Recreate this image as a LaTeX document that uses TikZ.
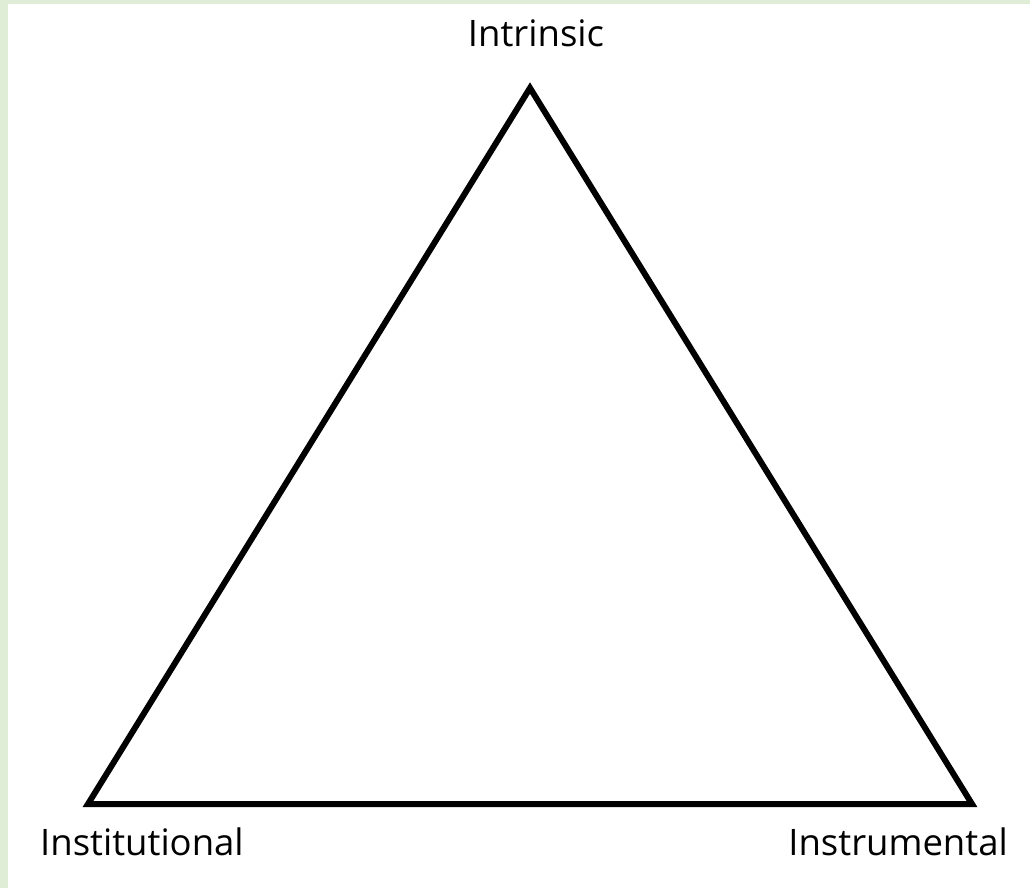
\documentclass[tikz,border=0pt]{standalone}
\usepackage{fontspec}
\setmainfont{Open Sans}
\usepackage{tikz}
\definecolor{edgeGreen}{RGB}{223, 237, 214}

\begin{document}
\begin{tikzpicture}[x=1pt, y=-1pt, every node/.style={font=\fontsize{36.5}{44}\selectfont, inner sep=0pt}]
      \useasboundingbox (0,0) rectangle (1030,888);
      % page edge
      \fill[edgeGreen] (0,0) rectangle (8,888);
      \fill[edgeGreen] (0,0) rectangle (1030,4);

      % Triangle corners
      \coordinate (top) at (530,88);
      \coordinate (left) at (88,804);
      \coordinate (right) at (972,804);

      \draw[line width=6pt] (top) -- (left) -- (right) -- cycle;

      \node[anchor=base] (intrinsic) at (536,47) {Intrinsic};
      \node[anchor=base west] (institutional) at (40,855) {Institutional};
      \node[anchor=base east] (instrumental) at (1008,855) {Instrumental};
    \end{tikzpicture}
\end{document}
